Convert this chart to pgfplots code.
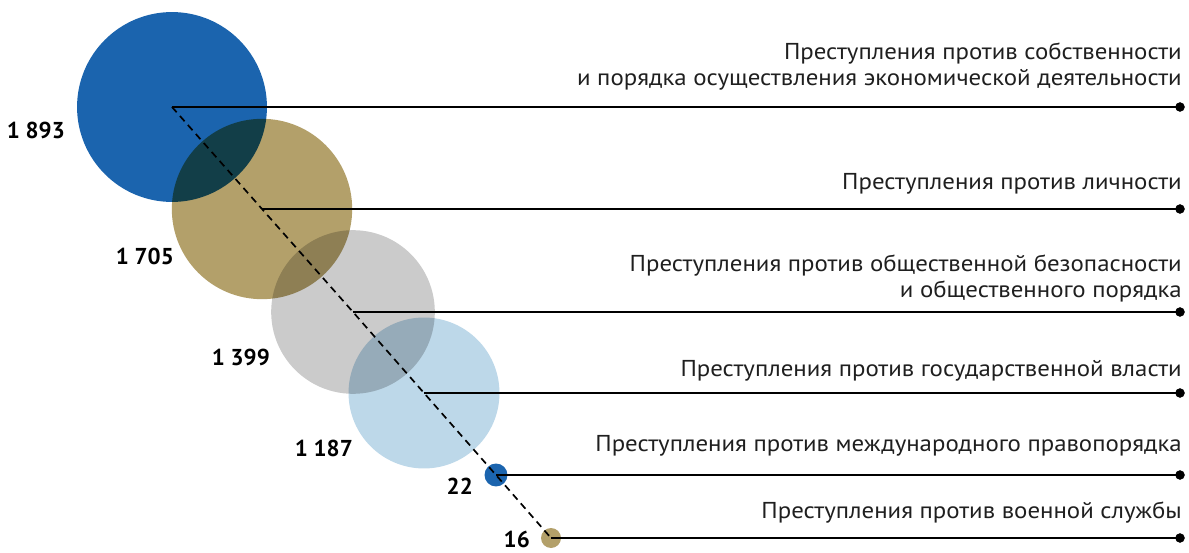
\documentclass[border=0pt]{standalone}
\usepackage{fontspec}
\setmainfont{PT Sans}
\newfontfamily\lblfont[FakeStretch=1.08]{PT Sans}
\usepackage{pgfplots}
\usepackage{pgfplotstable}
\pgfplotsset{compat=1.18}
\definecolor{cblue}{HTML}{1B64AE}
\definecolor{cgold}{HTML}{B3A06A}
\definecolor{cgray}{HTML}{CBCBCB}
\definecolor{clight}{HTML}{BDD8E9}
\pgfplotstableread{
x y v
172 107 1893
262 209 1705
353 312 1399
424 393 1187
496 475 22
551 538 16
}\bubbles
\begin{document}
\begin{tikzpicture}[
  lbl/.style={anchor=base east, font=\lblfont\fontsize{23}{26}\selectfont, text=black!88, inner sep=0pt},
  num/.style={anchor=base east, font=\fontsize{23}{26}\selectfont\bfseries, inner sep=0pt}]
\useasboundingbox (0,0) rectangle (1189pt,553pt);
\begin{axis}[at={(0,0)}, anchor=south west, width=1189pt, height=553pt,
  scale only axis, xmin=0, xmax=1189, ymin=0, ymax=553, y dir=reverse,
  hide axis, clip=false,
  bub/.style 2 args={scatter, only marks, mark=*, blend mode=multiply,
    scatter/use mapped color={draw opacity=0, fill=#1},
    visualization depends on={2.15*sqrt(\thisrow{v})+1.4 \as \rad},
    scatter/@pre marker code/.append style={/tikz/mark size=\rad},
    x filter/.expression={\coordindex==#2 ? x : nan}},
]
\addplot[bub={cblue}{0}] table[x=x,y=y] {\bubbles};
\addplot[bub={cgold}{1}] table[x=x,y=y] {\bubbles};
\addplot[bub={cgray}{2}] table[x=x,y=y] {\bubbles};
\addplot[bub={clight}{3}] table[x=x,y=y] {\bubbles};
\addplot[bub={cblue}{4}] table[x=x,y=y] {\bubbles};
\addplot[bub={cgold}{5}] table[x=x,y=y] {\bubbles};
\addplot[black, line width=1.7pt, dash pattern=on 7pt off 5pt] table[x=x,y=y] {\bubbles};
\addplot[black, line width=1.7pt] coordinates {(172,107) (1180,107)};
\addplot[black, line width=1.7pt] coordinates {(262,209) (1180,209)};
\addplot[black, line width=1.7pt] coordinates {(353,312) (1180,312)};
\addplot[black, line width=1.7pt] coordinates {(424,393) (1180,393)};
\addplot[black, line width=1.7pt] coordinates {(496,475) (1180,475)};
\addplot[black, line width=1.7pt] coordinates {(551,538) (1180,538)};
\addplot[only marks, mark=*, mark size=4.5pt, black] coordinates {(1180,107) (1180,209) (1180,312) (1180,393) (1180,475) (1180,538)};
\node[lbl] at (axis cs:1182,60) {Преступления против собственности};
\node[lbl] at (axis cs:1182,86) {и порядка осуществления экономической деятельности};
\node[lbl] at (axis cs:1182,190) {Преступления против личности};
\node[lbl] at (axis cs:1182,272) {Преступления против общественной безопасности};
\node[lbl] at (axis cs:1182,298) {и общественного порядка};
\node[lbl] at (axis cs:1182,377) {Преступления против государственной власти};
\node[lbl] at (axis cs:1182,451) {Преступления против международного правопорядка};
\node[lbl] at (axis cs:1182,518) {Преступления против военной службы};
\node[num] at (axis cs:65,139) {1 893};
\node[num] at (axis cs:174,265) {1 705};
\node[num] at (axis cs:270,366) {1 399};
\node[num] at (axis cs:353,456) {1 187};
\node[num] at (axis cs:473,494) {22};
\node[num] at (axis cs:530,547) {16};
\end{axis}
\end{tikzpicture}
\end{document}
